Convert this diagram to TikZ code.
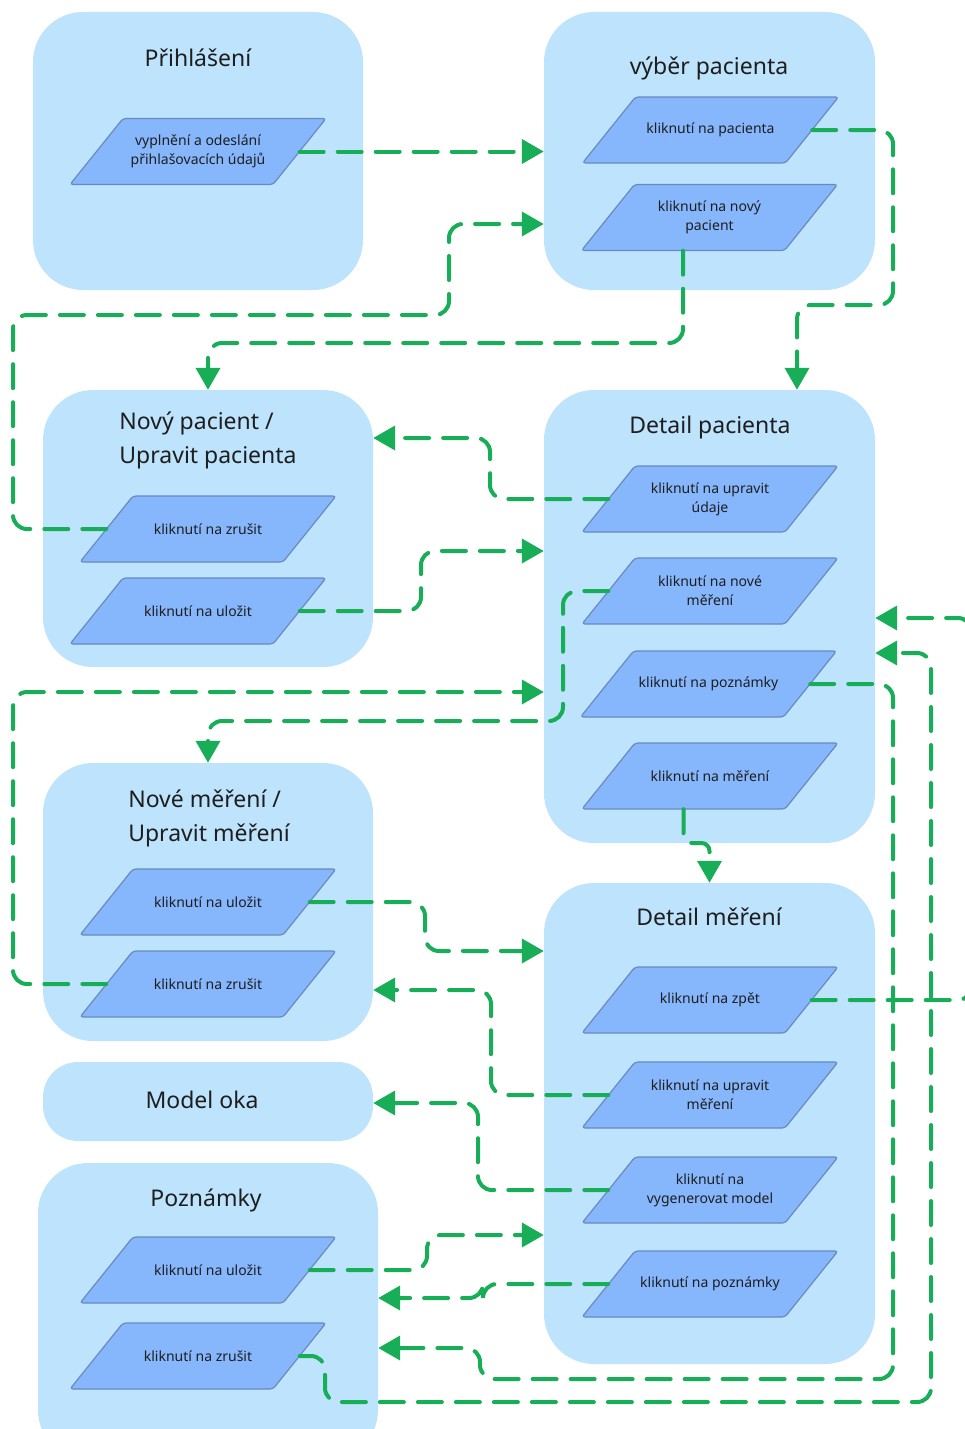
\documentclass[tikz,border=0pt]{standalone}
\usepackage{fontspec}
\setmainfont{Noto Sans}
\usetikzlibrary{arrows.meta,calc}
\definecolor{grpfill}{RGB}{190,227,253}
\definecolor{iofill}{RGB}{134,182,252}
\definecolor{iodraw}{RGB}{105,138,190}
\definecolor{flow}{RGB}{24,174,88}
\definecolor{txt}{RGB}{30,30,30}
\tikzset{
  grp/.style={draw=none, fill=grpfill, rounded corners=50pt, inner sep=0pt},
  grptitle/.style={font=\fontsize{23}{34}\selectfont, text=txt, align=left, inner sep=0pt},
  iobg/.style={fill=iofill, draw=iodraw, line width=1.2pt, rounded corners=3pt},
  iotext/.style={rectangle, minimum width=203pt, minimum height=66pt, inner sep=0pt,
    font=\fontsize{14}{19}\selectfont, text=txt, align=center},
  flowline/.style={draw=flow, line width=4pt, line cap=round,
    dash pattern=on 24pt off 14pt, rounded corners=14pt,
    -{Triangle[length=22pt,width=24pt]}}
}
% parallelogram action box: name, x, y, text
\newcommand\iobox[4]{%
  \filldraw[iobg, shift={(#2,#3)}] (-75,-33) -- (128,-33) -- (75,33) -- (-128,33) -- cycle;
  \node[iotext] (#1) at (#2,#3) {#4};}
\begin{document}
\begin{tikzpicture}[x=1pt,y=-1pt]
\useasboundingbox (0,0) rectangle (965,1429);
% groups
\node[grp, minimum width=330pt, minimum height=278pt] (G1) at (198,151) {};
\node[grp, minimum width=331pt, minimum height=278pt] (G2) at (709.5,151) {};
\node[grp, minimum width=330pt, minimum height=277pt] (G3) at (208,528.5) {};
\node[grp, minimum width=331pt, minimum height=453pt] (G4) at (709.5,616.5) {};
\node[grp, minimum width=330pt, minimum height=278pt] (G5) at (208,902) {};
\node[grp, minimum width=331pt, minimum height=481pt] (G6) at (709.5,1123.5) {};
\node[grp, minimum width=330pt, minimum height=79pt, rounded corners=35pt] (G7) at (208,1101.5) {};
\node[grp, minimum width=340pt, minimum height=297pt] (G8) at (208,1311.5) {};
% titles
\node[grptitle] (T1) at (198,58) {Přihlášení};
\node[grptitle] (T2) at (709,68) {výběr pacienta};
\node[grptitle] (T3) at (208,440) {Nový pacient /\\Upravit pacienta};
\node[grptitle] (T4) at (710,428) {Detail pacienta};
\node[grptitle] (T5) at (209,818) {Nové měření /\\Upravit měření};
\node[grptitle] (T6) at (709,917) {Detail měření};
\node[grptitle] (T7) at (202,1100) {Model oka};
\node[grptitle] (T8) at (206,1200) {Poznámky};
% actions
\iobox{P1}{198}{151.5}{vyplnění a odeslání\\přihlašovacích údajů}
\iobox{V1}{710.5}{130}{kliknutí na pacienta}
\iobox{V2}{709.5}{217.5}{kliknutí na nový\\pacient}
\iobox{N1}{208}{529}{kliknutí na zrušit}
\iobox{N2}{198}{611}{kliknutí na uložit}
\iobox{D1}{710}{499}{kliknutí na upravit\\údaje}
\iobox{D2}{710}{591}{kliknutí na nové\\měření}
\iobox{D3}{708.5}{684}{kliknutí na poznámky}
\iobox{D4}{710}{776}{kliknutí na měření}
\iobox{M1}{208}{902}{kliknutí na uložit}
\iobox{M2}{208}{984}{kliknutí na zrušit}
\iobox{E1}{710}{1000}{kliknutí na zpět}
\iobox{E2}{710}{1095}{kliknutí na upravit\\měření}
\iobox{E3}{710}{1190}{kliknutí na\\vygenerovat model}
\iobox{E4}{710}{1284}{kliknutí na poznámky}
\iobox{Z1}{208}{1270}{kliknutí na uložit}
\iobox{Z2}{198}{1356}{kliknutí na zrušit}
% connectors
\draw[flowline] (P1.east) -- (G2.west |- P1.east);
\draw[flowline] (N1.west) -| (13,315) -| (449,224) -- (G2.west |- 0,224);
\draw[flowline] ([xshift=-26.5pt]V2.south) |- (208,343) -- (G3.north);
\draw[flowline] (V1.east) -| (893,305) -| (G4.north -| 797,0);
\draw[flowline] (D1.west) -| (490,438) -- (G3.east |- 0,438);
\draw[flowline] (N2.east) -| (421,551) -- (G4.west |- 0,551);
\draw[flowline] (D2.west) -| (563,721) -| (G5.north);
\draw[flowline] (M2.west) -| (13,692) -- (G4.west |- 0,692);
\draw[flowline, rounded corners=8pt] ([xshift=-26.5pt]D4.south) |- (709.5,843) -- (G6.north);
\draw[flowline] (M1.east) -| (425,951) -- (G6.west |- 0,951);
\draw[flowline] (E2.west) -| (491,990) -- (G5.east |- 0,990);
\draw[flowline] (E3.west) -| (478,1103) -- (G7.east |- 0,1103);
\draw[flowline] (Z1.east) -| (427,1235) -- (G6.west |- 0,1235);
\draw[flowline] (E4.west) -| (483,1298) -- (G8.east |- 0,1298);
\draw[flowline] (D3.east) -| (893,1379) -| (480,1348) -- (G8.east |- 0,1348);
\draw[flowline] (Z2.east) -| (325,1402) -| (931,653) -- (G4.east |- 0,653);
\draw[flowline] (E1.east) -| (972,618) -- (G4.east |- 0,618);
\end{tikzpicture}
\end{document}
